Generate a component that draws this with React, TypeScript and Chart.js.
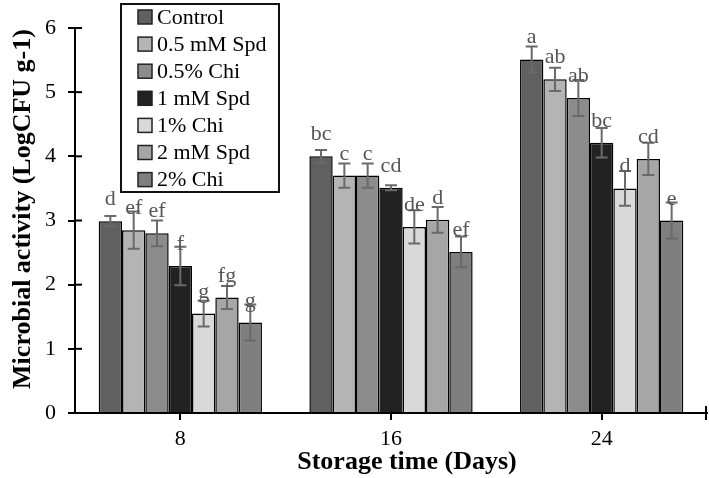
import React, { useEffect, useRef } from "react";
import { Chart, registerables } from "chart.js";

Chart.register(...registerables);

const categories = ["8", "16", "24"];
const seriesNames = ["Control", "0.5 mM Spd", "0.5% Chi", "1 mM Spd", "1% Chi", "2 mM Spd", "2% Chi"];
const seriesColors = ["#606060", "#b4b4b4", "#8c8c8c", "#222222", "#d9d9d9", "#a6a6a6", "#7f7f7f"];

const control = [2.99, 4.0, 5.51];
const spd05 = [2.85, 3.7, 5.2];
const chi05 = [2.8, 3.7, 4.91];
const spd1 = [2.29, 3.51, 4.21];
const chi1 = [1.55, 2.9, 3.5];
const spd2 = [1.8, 3.01, 3.96];
const chi2 = [1.41, 2.51, 3.0];

const controlErr = [0.08, 0.1, 0.2];
const spd05Err = [0.29, 0.19, 0.18];
const chi05Err = [0.2, 0.19, 0.28];
const spd1Err = [0.3, 0.04, 0.23];
const chi1Err = [0.2, 0.26, 0.27];
const spd2Err = [0.18, 0.2, 0.25];
const chi2Err = [0.28, 0.24, 0.28];

const controlLetters = ["d", "bc", "a"];
const spd05Letters = ["ef", "c", "ab"];
const chi05Letters = ["ef", "c", "ab"];
const spd1Letters = ["f", "cd", "bc"];
const chi1Letters = ["g", "de", "d"];
const spd2Letters = ["fg", "d", "cd"];
const chi2Letters = ["g", "ef", "e"];

const yTicks = [0, 1, 2, 3, 4, 5, 6];
const xTitle = "Storage time (Days)";
const yTitle = "Microbial activity (LogCFU g-1)";

const seriesValues = [control, spd05, chi05, spd1, chi1, spd2, chi2];
const seriesErrors = [controlErr, spd05Err, chi05Err, spd1Err, chi1Err, spd2Err, chi2Err];
const seriesLetters = [controlLetters, spd05Letters, chi05Letters, spd1Letters, chi1Letters, spd2Letters, chi2Letters];

const FONT = 'Liberation Serif, "Times New Roman", serif';

const decorPlugin = {
  id: "decor",
  afterDatasetsDraw(chart: any) {
    const ctx = chart.ctx;
    const y = chart.scales.y;
    const area = chart.chartArea;
    ctx.save();
    // error bars
    ctx.strokeStyle = "#6a6a6a";
    ctx.lineWidth = 2;
    chart.data.datasets.forEach((ds: any, di: number) => {
      const meta = chart.getDatasetMeta(di);
      meta.data.forEach((el: any, i: number) => {
        const v = ds.data[i];
        const e = seriesErrors[di][i];
        const yt = y.getPixelForValue(v + e);
        const yb = y.getPixelForValue(v - e);
        ctx.beginPath();
        ctx.moveTo(el.x, yt);
        ctx.lineTo(el.x, yb);
        ctx.moveTo(el.x - 6, yt);
        ctx.lineTo(el.x + 6, yt);
        ctx.moveTo(el.x - 6, yb);
        ctx.lineTo(el.x + 6, yb);
        ctx.stroke();
      });
    });
    // letters
    ctx.fillStyle = "#555555";
    ctx.font = `22px ${FONT}`;
    ctx.textAlign = "center";
    ctx.textBaseline = "alphabetic";
    chart.data.datasets.forEach((ds: any, di: number) => {
      const meta = chart.getDatasetMeta(di);
      meta.data.forEach((el: any, i: number) => {
        ctx.fillText(seriesLetters[di][i], el.x, el.y - 16);
      });
    });
    // inner y ticks
    ctx.strokeStyle = "#000";
    ctx.lineWidth = 2;
    yTicks.forEach((t) => {
      const py = y.getPixelForValue(t);
      ctx.beginPath();
      ctx.moveTo(area.left, py);
      ctx.lineTo(area.left + 7, py);
      ctx.stroke();
    });
    // end tick on x axis
    ctx.beginPath();
    ctx.moveTo(area.right - 1, area.bottom - 7);
    ctx.lineTo(area.right - 1, area.bottom + 7);
    ctx.stroke();
    // axis titles
    ctx.fillStyle = "#000";
    ctx.font = `bold 26px ${FONT}`;
    ctx.textAlign = "center";
    ctx.textBaseline = "middle";
    ctx.fillText(xTitle, 407, 462);
    ctx.save();
    ctx.translate(23, 209);
    ctx.rotate(-Math.PI / 2);
    ctx.fillText(yTitle, 0, 0);
    ctx.restore();
    // legend
    const lx = 121, ly = 4, lw = 158, lh = 188;
    ctx.fillStyle = "#ffffff";
    ctx.fillRect(lx, ly, lw, lh);
    ctx.strokeStyle = "#111";
    ctx.lineWidth = 2;
    ctx.strokeRect(lx, ly, lw, lh);
    ctx.font = `22px ${FONT}`;
    ctx.textAlign = "left";
    ctx.textBaseline = "middle";
    seriesNames.forEach((name, i) => {
      const cy = 17 + i * 27.1;
      ctx.fillStyle = seriesColors[i];
      ctx.fillRect(138, cy - 7, 14, 14);
      ctx.strokeStyle = "#222";
      ctx.lineWidth = 1.5;
      ctx.strokeRect(138, cy - 7, 14, 14);
      ctx.fillStyle = "#000";
      ctx.fillText(name, 157, cy + 1);
    });
    ctx.restore();
  },
};

export default function App() {
  const ref = useRef<HTMLCanvasElement>(null);
  useEffect(() => {
    if (!ref.current) return;
    const chart = new Chart(ref.current, {
      type: "bar",
      data: {
        labels: categories,
        datasets: seriesNames.map((name, i) => ({
          label: name,
          data: seriesValues[i],
          backgroundColor: seriesColors[i],
          borderColor: "#000",
          borderWidth: 1.5,
          categoryPercentage: 0.775,
          barPercentage: 1.0,
        })),
      },
      options: {
        responsive: false,
        animation: false,
        layout: { padding: { top: 28, right: 2, left: 0, bottom: 0 } },
        plugins: { legend: { display: false }, tooltip: { enabled: false } },
        scales: {
          x: {
            offset: true,
            grid: { display: true, drawOnChartArea: false, offset: false, tickLength: 7, color: "#000", lineWidth: 2 },
            border: { display: true, color: "#000", width: 2 },
            ticks: { color: "#000", font: { family: FONT, size: 22 }, padding: 6 },
            title: { display: false },
            afterFit: (s: any) => {
              s.height = 65;
            },
          },
          y: {
            min: 0,
            max: 6,
            grid: { display: true, drawOnChartArea: false, tickLength: 7, color: "#000", lineWidth: 2 },
            border: { display: true, color: "#000", width: 2 },
            ticks: {
              stepSize: 1,
              color: "#000",
              font: { family: FONT, size: 22 },
              padding: 12,
              callback: (v: any) => String(v),
            },
            title: { display: false },
            afterFit: (s: any) => {
              s.width = 75;
            },
          },
        },
      },
      plugins: [decorPlugin],
    });
    return () => chart.destroy();
  }, []);
  return (
    <div style={{ position: "fixed", left: 0, top: 0, width: 709, height: 478, background: "#fff" }}>
      <canvas ref={ref} width={709} height={478} style={{ display: "block" }} />
    </div>
  );
}
